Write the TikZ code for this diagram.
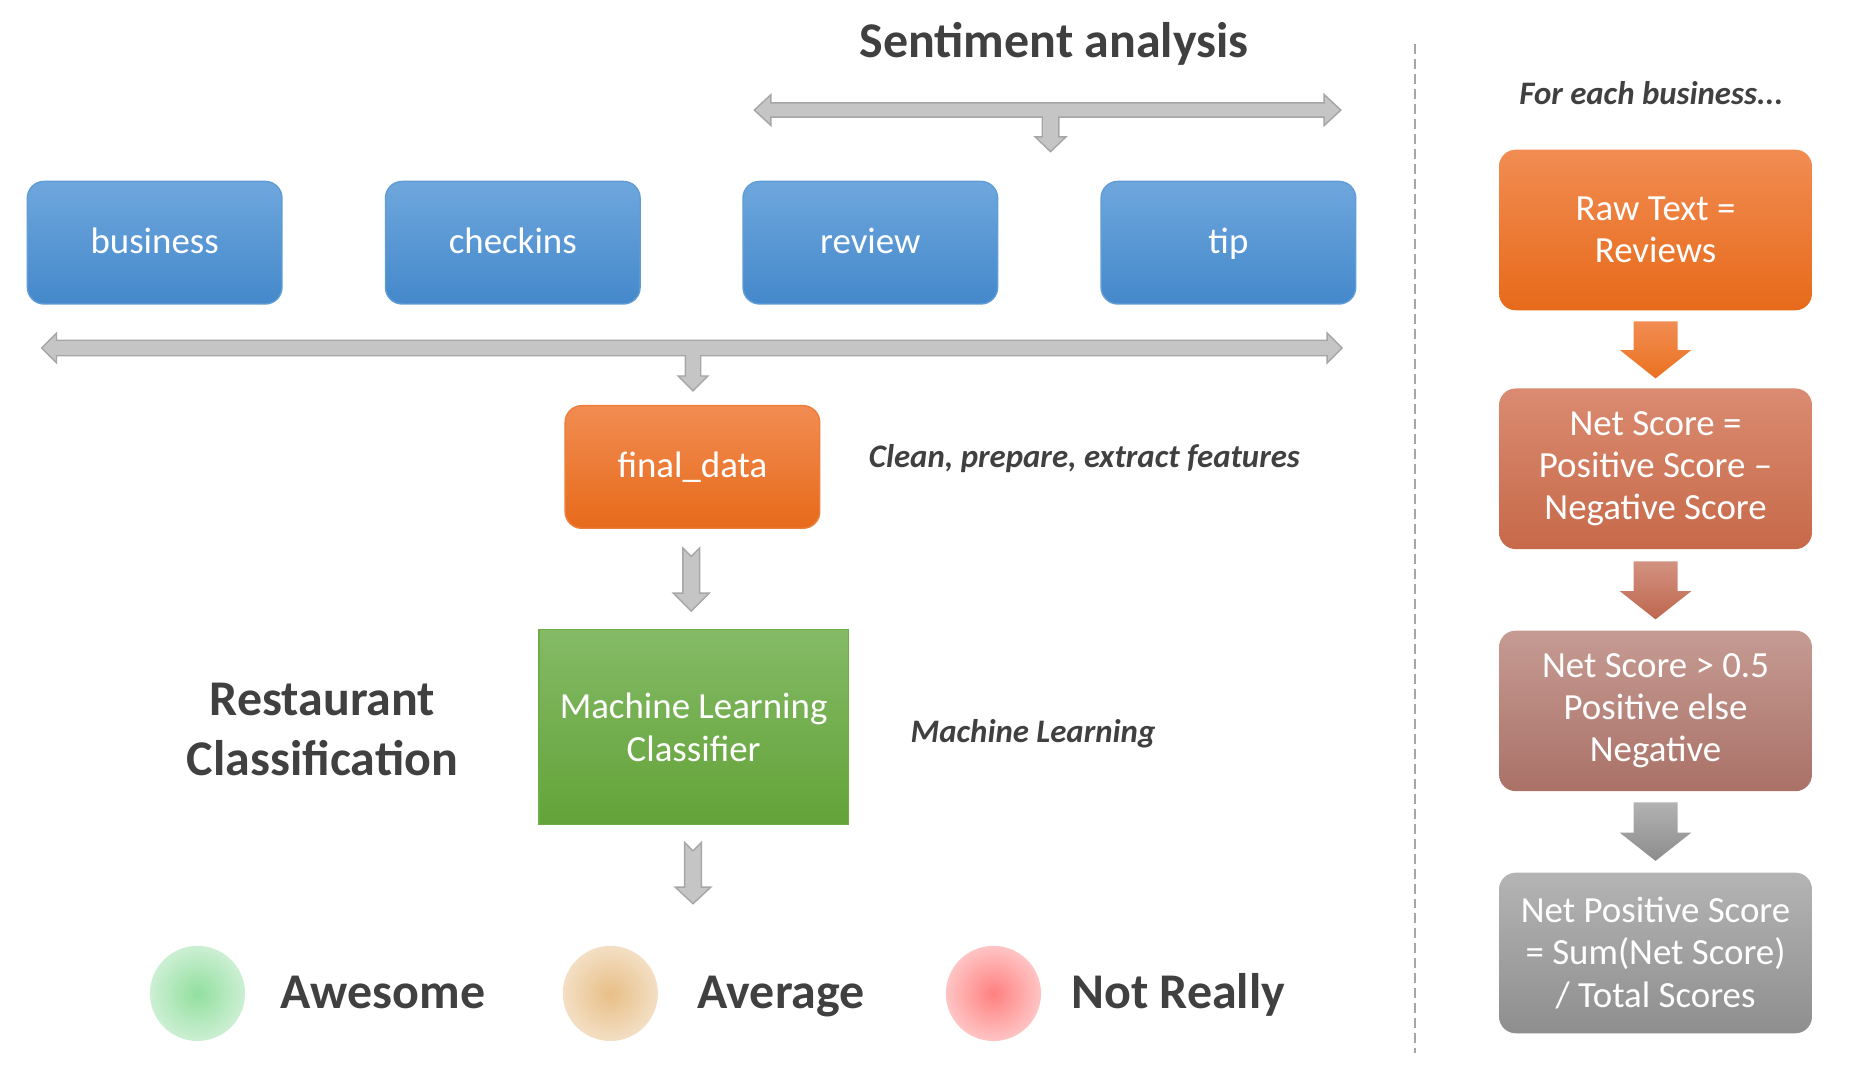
\documentclass[tikz,border=0pt]{standalone}
\usepackage{fontspec}
\setmainfont{Carlito}
\usetikzlibrary{calc}
\definecolor{txt}{HTML}{404040}
\definecolor{blueT}{RGB}{110,167,221}
\definecolor{blueB}{RGB}{68,136,203}
\definecolor{blueE}{RGB}{96,156,214}
\definecolor{orT}{RGB}{241,140,82}
\definecolor{orB}{RGB}{231,106,26}
\definecolor{orE}{RGB}{238,125,60}
\definecolor{grT}{RGB}{132,186,102}
\definecolor{grB}{RGB}{99,163,56}
\definecolor{grE}{RGB}{110,172,70}
\definecolor{saT}{RGB}{218,139,113}
\definecolor{saB}{RGB}{199,105,73}
\definecolor{roT}{RGB}{197,155,147}
\definecolor{roB}{RGB}{170,113,103}
\definecolor{gyT}{RGB}{180,180,180}
\definecolor{gyB}{RGB}{142,142,142}
\definecolor{arF}{RGB}{197,197,197}
\definecolor{arE}{RGB}{166,166,166}
\begin{document}
\begin{tikzpicture}[x=0.5pt,y=-0.5pt,
  boxtext/.style={text=white,font=\fontsize{15.5}{17.75}\selectfont,align=center,inner sep=0pt},
  onebox/.style={text height=11pt,text depth=2pt},
  bluebox/.style={boxtext,onebox,rounded corners=7pt,minimum width=107pt,minimum height=51.5pt,top color=blueT,bottom color=blueB,draw=blueE,line width=0.6pt},
  orbox/.style={boxtext,rounded corners=7pt,top color=orT,bottom color=orB,draw=orE,line width=0.6pt},
  rbox/.style={boxtext,rounded corners=7pt,minimum width=131.5pt,minimum height=67.5pt},
  garrow/.style={fill=arF,draw=arE,line width=0.6pt,line join=miter},
  big/.style={text=txt,font=\bfseries\fontsize{21}{25}\selectfont,align=center,inner sep=0pt},
  note/.style={text=txt,font=\bfseries\itshape\fontsize{13.8}{16}\selectfont,inner sep=0pt},
  dot/.style={circle,minimum size=40pt,inner sep=0pt,shading=radial}
]
\useasboundingbox (0,0) rectangle (1560,905);

% title
\node[big,anchor=base] (title) at (886,48) {Sentiment analysis};

% top T arrow
\filldraw[garrow] (634,92.5) -- (648,79.5) -- (648,86.5) -- (1113,86.5) -- (1113,79.5) -- (1127,92.5)
  -- (1113,105.5) -- (1113,98.5) -- (890,98.5) -- (890,115) -- (896,115) -- (883,127.5)
  -- (870,115) -- (876,115) -- (876,98.5) -- (648,98.5) -- (648,105.5) -- cycle;

% blue boxes
\node[bluebox] (business) at (130,204) {business};
\node[bluebox] (checkins) at (431,204) {checkins};
\node[bluebox] (review) at (731.5,204) {review};
\node[bluebox] (tip) at (1032.5,204) {tip};

% big T arrow
\filldraw[garrow] (35,292.5) -- (47.5,280) -- (47.5,286) -- (1115.5,286) -- (1115.5,280) -- (1128,292.5)
  -- (1115.5,305) -- (1115.5,299) -- (589,299) -- (589,316) -- (595,316) -- (582.5,328.5)
  -- (570,316) -- (576,316) -- (576,299) -- (47.5,299) -- (47.5,305) -- cycle;

% final_data
\node[orbox,onebox,minimum width=107pt,minimum height=51.5pt] (fd) at (582,392.5) {final\_data};
\node[note,anchor=base west] (clean) at (730,393) {Clean, prepare, extract features};

% notched arrow fd -> ml
\coordinate (n1) at ($(fd.south)+(-1,16)$);
\filldraw[garrow] ($(n1)+(-7,0)$) -- ($(n1)+(0,7)$) -- ($(n1)+(7,0)$) -- ($(n1)+(7,38)$) -- ($(n1)+(15,38)$)
  -- ($(n1)+(0,53)$) -- ($(n1)+(-15,38)$) -- ($(n1)+(-7,38)$) -- cycle;

% ML box
\node[boxtext,minimum width=130pt,minimum height=82pt,top color=grT,bottom color=grB,draw=grE,line width=0.6pt,
  font=\fontsize{15.5}{18}\selectfont] (ml) at (583,611) {Machine Learning\\Classifier};
\node[big] (rc) at (271,613) {Restaurant\\Classification};
\node[note,anchor=base west] (mlnote) at (765,624) {Machine Learning};

% notched arrow ml -> outcomes
\coordinate (n2) at ($(ml.south)+(-0.5,14.5)$);
\filldraw[garrow] ($(n2)+(-7,0)$) -- ($(n2)+(0,7)$) -- ($(n2)+(7,0)$) -- ($(n2)+(7,37.5)$) -- ($(n2)+(15,37.5)$)
  -- ($(n2)+(0,51.5)$) -- ($(n2)+(-15,37.5)$) -- ($(n2)+(-7,37.5)$) -- cycle;

% outcomes
\node[dot,inner color={rgb,255:red,146;green,223;blue,158},outer color={rgb,255:red,204;green,239;blue,211}] (c1) at (166,835) {};
\node[dot,inner color={rgb,255:red,232;green,190;blue,134},outer color={rgb,255:red,243;green,223;blue,196}] (c2) at (513,835) {};
\node[dot,inner color={rgb,255:red,255;green,128;blue,128},outer color={rgb,255:red,255;green,196;blue,196}] (c3) at (835,835) {};
\node[big,anchor=base west] (l1) at (235.5,848) {Awesome};
\node[big,anchor=base west] (l2) at (586,848) {Average};
\node[big,anchor=base west] (l3) at (900,848) {Not Really};

% divider
\draw[arE,line width=0.85pt,dash pattern=on 4.2pt off 2.1pt] (1189,37) -- (1189,885);

% right column
\node[note,anchor=base] (each) at (1388,88) {For each business...};
\node[rbox,top color=orT,bottom color=orB] (r1) at (1391.5,193.3) {Raw Text =\\Reviews};
\node[rbox,top color=saT,bottom color=saB] (r2) at (1391.5,394) {Net Score =\\Positive Score –\\Negative Score};
\node[rbox,top color=roT,bottom color=roB] (r3) at (1391.5,597.5) {Net Score > 0.5\\Positive else\\Negative};
\node[rbox,top color=gyT,bottom color=gyB] (r4) at (1391.5,801) {Net Positive Score\\= Sum(Net Score)\\/ Total Scores};

% right block arrows
\shade[top color=orT,bottom color={rgb,255:red,234;green,114;blue,32}]
  ($(r1.south)+(-18.5,9)$) -- ($(r1.south)+(18.5,9)$) -- ($(r1.south)+(18.5,33)$) -- ($(r1.south)+(30,33)$)
  -- ($(r2.north)+(0,-8)$) -- ($(r1.south)+(-30,33)$) -- ($(r1.south)+(-18.5,33)$) -- cycle;
\shade[top color={rgb,255:red,210;green,146;blue,128},bottom color={rgb,255:red,190;green,102;blue,78}]
  ($(r2.south)+(-18.5,10)$) -- ($(r2.south)+(18.5,10)$) -- ($(r2.south)+(18.5,35)$) -- ($(r2.south)+(30,35)$)
  -- ($(r3.north)+(0,-9)$) -- ($(r2.south)+(-30,35)$) -- ($(r2.south)+(-18.5,35)$) -- cycle;
\shade[top color={rgb,255:red,178;green,178;blue,178},bottom color={rgb,255:red,140;green,140;blue,140}]
  ($(r3.south)+(-18.5,9)$) -- ($(r3.south)+(18.5,9)$) -- ($(r3.south)+(18.5,34.5)$) -- ($(r3.south)+(30,34.5)$)
  -- ($(r4.north)+(0,-9.5)$) -- ($(r3.south)+(-30,34.5)$) -- ($(r3.south)+(-18.5,34.5)$) -- cycle;
\end{tikzpicture}
\end{document}
